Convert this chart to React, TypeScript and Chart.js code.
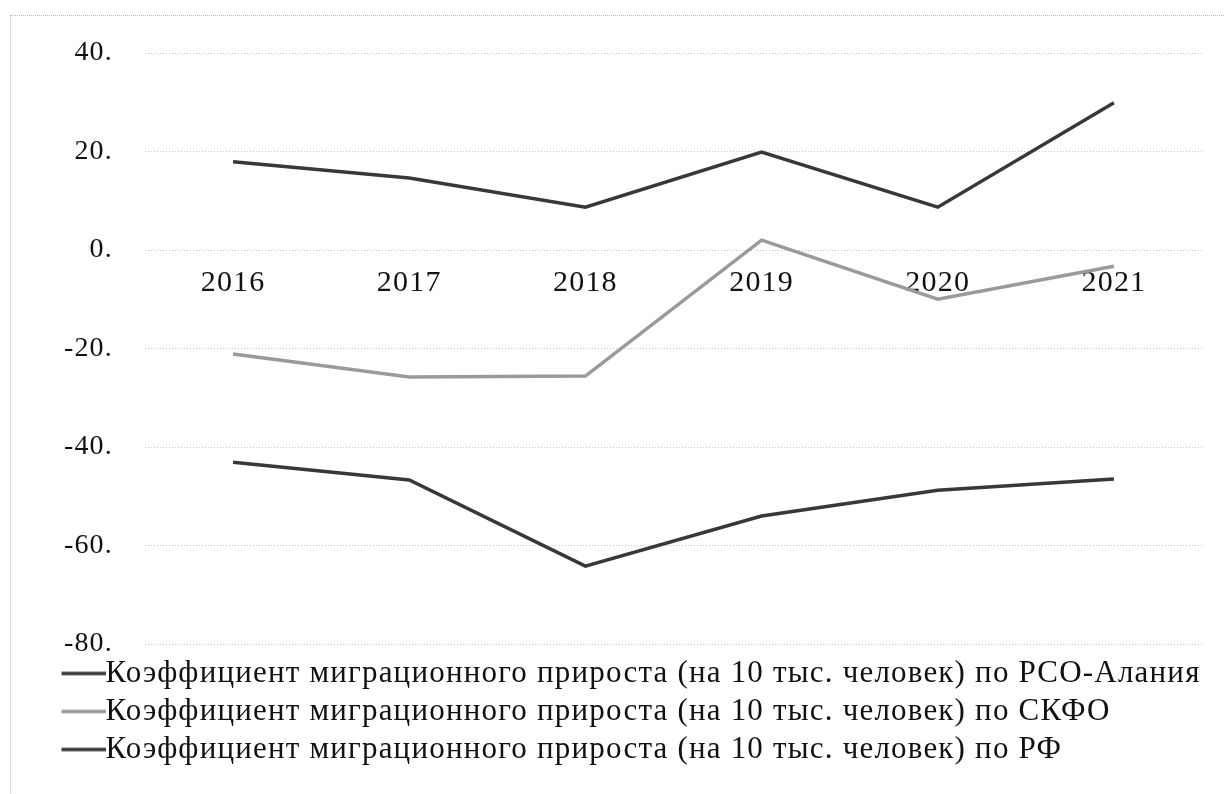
import React, { useEffect, useRef } from "react";
import { Chart, registerables } from "chart.js";

Chart.register(...registerables);

const years = ["2016", "2017", "2018", "2019", "2020", "2021"];
const seriesNames = [
  "Коэффициент миграционного прироста (на 10 тыс. человек) по РСО-Алания",
  "Коэффициент миграционного прироста (на 10 тыс. человек) по СКФО",
  "Коэффициент миграционного прироста (на 10 тыс. человек) по РФ",
];
const alania = [-43.1, -46.7, -64.2, -54.0, -48.8, -46.5];
const skfo = [-21.1, -25.8, -25.6, 2.0, -10.0, -3.3];
const rf = [17.9, 14.6, 8.7, 19.9, 8.7, 29.9];
const yMin = -80;
const yMax = 40;
const yStep = 20;

const DARK = "#383838";
const GRAY = "#9a9a9a";
const FONT = "'Liberation Serif', 'Times New Roman', serif";
const LEG_FS = 31;

function legendLine(color: string): HTMLCanvasElement {
  const P = 30;
  const W = P + LEG_FS;
  const L = 44;
  const c = document.createElement("canvas");
  c.width = W;
  c.height = 6;
  const g = c.getContext("2d")!;
  g.strokeStyle = color;
  g.lineWidth = 3.5;
  g.beginPath();
  g.moveTo(W - L, 3);
  g.lineTo(W, 3);
  g.stroke();
  return c;
}

const spacingPlugin = {
  id: "wideText",
  beforeDraw: (chart: any) => {
    (chart.ctx as any).letterSpacing = "1.2px";
  },
};

export default function App() {
  const ref = useRef<HTMLCanvasElement | null>(null);

  useEffect(() => {
    const colors = [DARK, GRAY, DARK];
    const images = colors.map(legendLine);
    const chart = new Chart(ref.current!, {
      type: "line",
      data: {
        labels: years,
        datasets: [
          { label: seriesNames[0], data: alania, borderColor: DARK, backgroundColor: DARK },
          { label: seriesNames[1], data: skfo, borderColor: GRAY, backgroundColor: GRAY },
          { label: seriesNames[2], data: rf, borderColor: DARK, backgroundColor: DARK },
        ],
      },
      plugins: [spacingPlugin],
      options: {
        animation: false,
        responsive: true,
        maintainAspectRatio: false,
        layout: { padding: { left: 53, top: 53, right: 23, bottom: 19 } },
        elements: {
          line: { borderWidth: 3.5, tension: 0 },
          point: { radius: 0 },
        },
        plugins: {
          tooltip: { enabled: false },
          legend: {
            position: "bottom",
            align: "start",
            title: {
              display: true,
              text: "",
              font: { size: 1, lineHeight: 1 },
              padding: { top: 6, bottom: 0 },
            },
            labels: {
              usePointStyle: true,
              pointStyleWidth: 30,
              padding: 7,
              color: "#111",
              font: { family: FONT, size: LEG_FS },
              generateLabels: (ch: any) =>
                ch.data.datasets.map((ds: any, i: number) => ({
                  text: ds.label,
                  fillStyle: colors[i],
                  strokeStyle: colors[i],
                  lineWidth: 0,
                  pointStyle: images[i],
                  hidden: false,
                  datasetIndex: i,
                  fontColor: "#111",
                })),
            },
          },
        },
        scales: {
          x: {
            position: { y: 0 } as any,
            offset: true,
            grid: { display: false, drawTicks: false, offset: true },
            border: { display: false },
            ticks: {
              color: "#111",
              padding: 15,
              font: { family: FONT, size: 30 },
            },
          },
          y: {
            min: yMin,
            max: yMax,
            afterFit: (s: any) => {
              s.width = 92;
            },
            grid: {
              color: "#c4c4c4",
              lineWidth: 1,
              drawTicks: false,
            },
            border: { display: false, dash: [1, 2] },
            ticks: {
              stepSize: yStep,
              padding: 32,
              color: "#111",
              font: { family: FONT, size: 28 },
              callback: (v: any) => `${v}.`,
            },
          },
        },
      },
    });
    return () => chart.destroy();
  }, []);

  return (
    <div style={{ position: "fixed", left: 0, top: 0, width: 1225, height: 794, background: "#fff" }}>
      <div
        style={{
          position: "absolute",
          left: 10,
          top: 15,
          right: -5,
          bottom: -5,
          borderLeft: "1px dotted #bdbdbd",
          borderTop: "1px dotted #bdbdbd",
        }}
      />
      <canvas ref={ref} />
    </div>
  );
}
